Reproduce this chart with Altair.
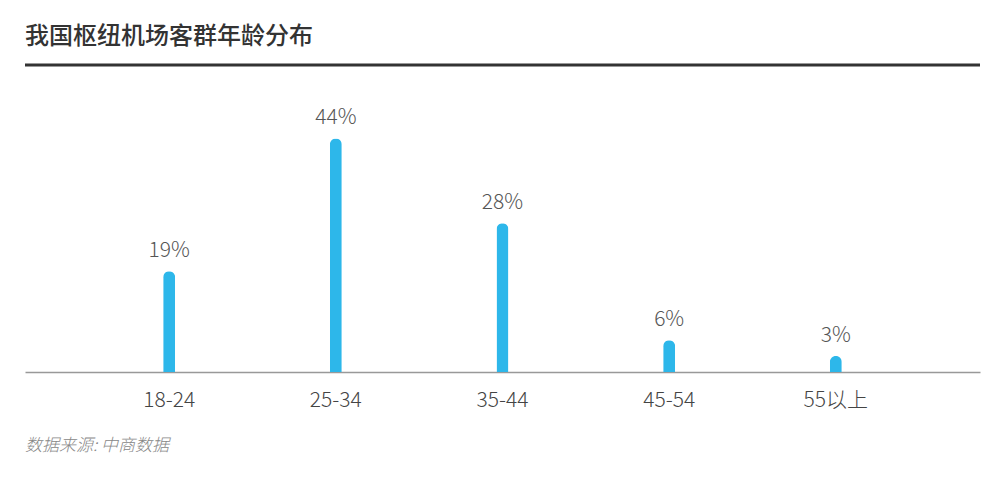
import altair as alt
import pandas as pd

categories = ["18-24", "25-34", "35-44", "45-54", "55以上"]
values = [19, 44, 28, 6, 3]

df = pd.DataFrame({"age": categories, "pct": values})
df["label"] = [f"{v}%" for v in values]

FONT = "Noto Sans CJK SC"
W, H = 955, 292

x = alt.X("age:N", sort=categories, title=None,
          scale=alt.Scale(paddingInner=0, paddingOuter=0.365),
          axis=alt.Axis(labelAngle=0, labelFontSize=21, labelColor="#444",
                        labelFont=FONT, labelFontWeight=300, ticks=False,
                        domainColor="#999999", domainWidth=1.5,
                        labelPadding=17, grid=False))
y = alt.Y("pct:Q", scale=alt.Scale(domain=[0, 55]), axis=None)

base = alt.Chart(df)
bars = base.mark_bar(size=12, cornerRadiusTopLeft=6, cornerRadiusTopRight=6,
                     color="#2DB7EA").encode(x=x, y=y)
labels = base.mark_text(baseline="bottom", dy=-10, fontSize=21, color="#555",
                        font=FONT, fontWeight=300).encode(x=x, y=y, text="label:N")

title = alt.Chart(pd.DataFrame({"t": ["我国枢纽机场客群年龄分布"]})).mark_text(
    align="left", baseline="middle", fontSize=24, fontWeight=500,
    color="#333", font=FONT
).encode(x=alt.value(0), y=alt.value(-43), text="t:N")

rule = alt.Chart(pd.DataFrame({"a": [1]})).mark_rule(
    color="#333", strokeWidth=3
).encode(x=alt.value(0), x2=alt.value(W), y=alt.value(-15))

source = alt.Chart(pd.DataFrame({"s": ["数据来源: 中商数据"]})).mark_text(
    align="left", baseline="middle", fontSize=17, fontStyle="italic",
    color="#888", font=FONT, fontWeight=300
).encode(x=alt.value(0), y=alt.value(74 + H), text="s:N")

chart = alt.layer(bars, labels, title, rule, source).properties(
    width=W, height=H,
    autosize=alt.AutoSizeParams(type="none"),
    padding={"left": 17, "top": 72, "right": 10, "bottom": 100},
).configure_view(stroke=None)

chart.save("out.html", embed_options={"renderer": "svg", "actions": False})
